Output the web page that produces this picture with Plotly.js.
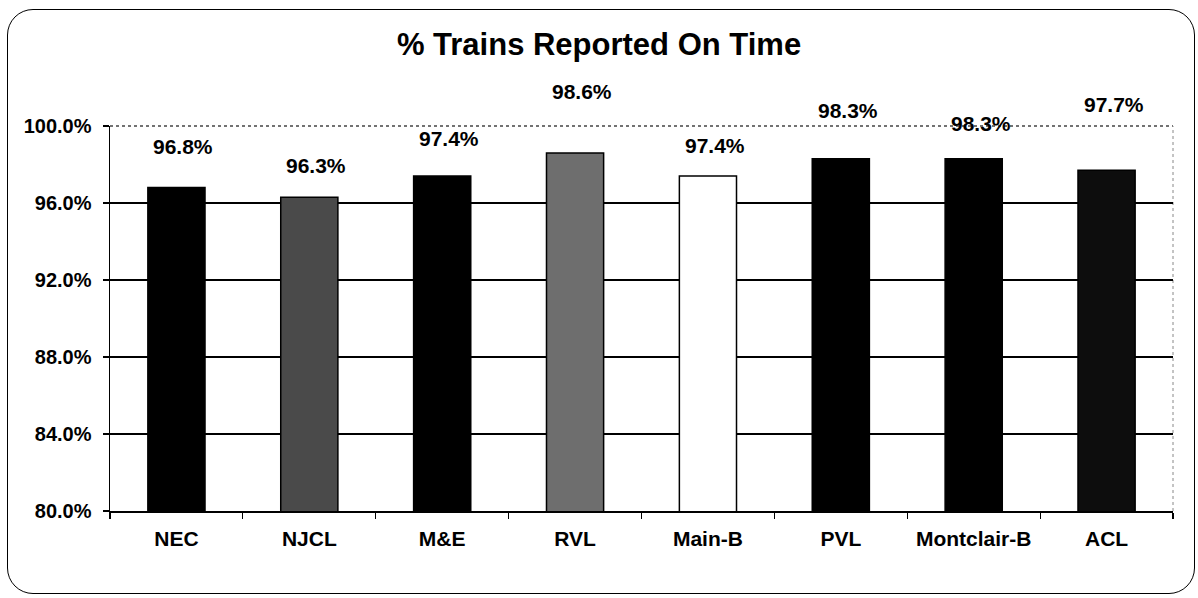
<!DOCTYPE html>
<html>
<head>
<meta charset="utf-8">
<script src="https://cdn.plot.ly/plotly-3.0.1.min.js"></script>
<style>
  html, body { margin: 0; padding: 0; background: #fff; }
  #frame { position: absolute; left: 7px; top: 9px; width: 1188px; height: 585px;
           border: 1.5px solid #000; border-radius: 26px; box-sizing: border-box; }
  #chart { position: absolute; left: 0; top: 0; width: 1198px; height: 598px; }
</style>
</head>
<body>
<div id="frame"></div>
<div id="chart"></div>
<script>
const categories = ["NEC", "NJCL", "M&E", "RVL", "Main-B", "PVL", "Montclair-B", "ACL"];
const onTime = [96.8, 96.3, 97.4, 98.6, 97.4, 98.3, 98.3, 97.7];
const valueLabels = ["96.8%", "96.3%", "97.4%", "98.6%", "97.4%", "98.3%", "98.3%", "97.7%"];
const yTicks = [80, 84, 88, 92, 96, 100];

// styling
const barColors = ["#000000", "#4a4a4a", "#000000", "#6e6e6e", "#ffffff", "#000000", "#000000", "#0d0d0d"];
const labelLift = [41, 32, 38, 61, 31, 48, 35, 66];

const font = "Liberation Sans, Arial, sans-serif";

const trace = {
  type: "bar",
  x: categories,
  y: onTime,
  marker: {
    color: barColors,
    line: { color: "#000", width: 1.5 }
  },
  width: 0.43,
  hoverinfo: "x+y"
};

const annotations = categories.map((c, i) => ({
  x: c, y: onTime[i], xref: "x", yref: "y",
  text: valueLabels[i], showarrow: false,
  yanchor: "middle", yshift: labelLift[i], xshift: 7,
  font: { family: font, size: 21, color: "#000", weight: "bold" }
}));

const layout = {
  width: 1198, height: 598,
  margin: { l: 110, r: 25, t: 126, b: 87 },
  paper_bgcolor: "rgba(0,0,0,0)",
  plot_bgcolor: "rgba(0,0,0,0)",
  title: { text: "<b>% Trains Reported On Time</b>", x: 0.5, xanchor: "center",
           y: 1 - 44/598, yanchor: "middle", yref: "container",
           font: { family: font, size: 31, color: "#000" } },
  showlegend: false,
  xaxis: {
    type: "category",
    showline: true, linecolor: "#000", linewidth: 1.5,
    ticks: "outside", tickson: "boundaries", ticklen: 6, tickcolor: "#000", tickwidth: 1.2,
    ticklabelstandoff: 8,
    tickfont: { family: font, size: 21, color: "#000", weight: "bold" },
    showgrid: false, zeroline: false, fixedrange: true
  },
  yaxis: {
    range: [80, 100],
    tickvals: yTicks,
    ticktext: yTicks.map(v => v.toFixed(1) + "%"),
    showline: true, linecolor: "#000", linewidth: 1.5,
    ticks: "outside", ticklen: 6, tickcolor: "#000", tickwidth: 1.2,
    ticklabelstandoff: 7,
    tickfont: { family: font, size: 20, color: "#000", weight: "bold" },
    showgrid: true, gridcolor: "#000", gridwidth: 1.2,
    zeroline: false, fixedrange: true
  },
  shapes: [
    { type: "line", xref: "paper", yref: "paper", x0: 0, x1: 1, y0: 1, y1: 1,
      line: { color: "#444", width: 1.3, dash: "dot" }, layer: "below" },
    { type: "line", xref: "paper", yref: "paper", x0: 1, x1: 1, y0: 0, y1: 1,
      line: { color: "#888", width: 1, dash: "dot" }, layer: "below" }
  ],
  annotations: annotations
};

Plotly.newPlot("chart", [trace], layout, { displayModeBar: false, staticPlot: true });
</script>
</body>
</html>
